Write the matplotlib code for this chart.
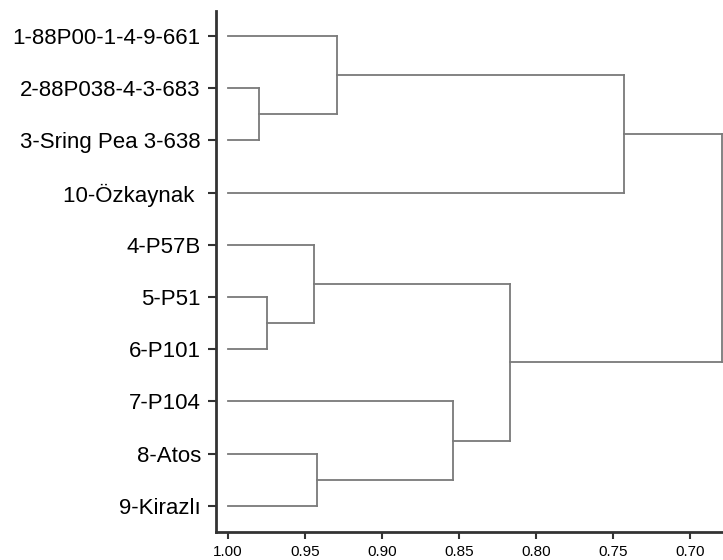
import matplotlib.pyplot as plt

plt.rcParams['font.family'] = ['Liberation Sans', 'DejaVu Sans']

# leaves in display order, top to bottom
labels = ['1-88P00-1-4-9-661', '2-88P038-4-3-683', '3-Sring Pea 3-638',
          '10-Özkaynak ', '4-P57B', '5-P51', '6-P101', '7-P104', '8-Atos',
          '9-Kirazlı']

# merges: (left node, right node, similarity); new clusters get ids 10, 11, ...
merge_left = [1, 0, 11, 5, 4, 8, 7, 14, 12]
merge_right = [2, 10, 3, 6, 13, 9, 15, 16, 17]
merge_height = [0.980, 0.929, 0.743, 0.975, 0.944, 0.942, 0.854, 0.817, 0.679]

x_ticks = [1.00, 0.95, 0.90, 0.85, 0.80, 0.75, 0.70]

fig = plt.figure(figsize=(7.23, 5.6), dpi=100)
ax = fig.add_axes([0.2988, 0.05, 0.7012, 0.9304])

line_col = '#7a7a7a'
n = len(labels)
pos = {i: float(i) for i in range(n)}
hgt = {i: 1.00 for i in range(n)}

for k in range(len(merge_height)):
    a, b, h = merge_left[k], merge_right[k], merge_height[k]
    ya, yb = pos[a], pos[b]
    ax.plot([hgt[a], h], [ya, ya], color=line_col, lw=1.3, clip_on=False)
    ax.plot([hgt[b], h], [yb, yb], color=line_col, lw=1.3, clip_on=False)
    ax.plot([h, h], [ya, yb], color=line_col, lw=1.3, clip_on=False)
    new = n + k
    pos[new] = (ya + yb) / 2
    hgt[new] = h

ax.set_xlim(1.0078, 0.6786)
ax.set_ylim(9.5, -0.48)

ax.set_yticks(range(n))
ax.set_yticklabels(labels, fontsize=16)
ax.set_xticks(x_ticks)
ax.set_xticklabels(['%.2f' % v for v in x_ticks], fontsize=11)

for s in ['top', 'right']:
    ax.spines[s].set_visible(False)
for s in ['left', 'bottom']:
    ax.spines[s].set_linewidth(2)
    ax.spines[s].set_color('#333333')
ax.tick_params(axis='y', length=6, width=1.5, color='#333333', pad=5)
ax.tick_params(axis='x', length=5, width=1.5, color='#333333', pad=4)

plt.savefig('out.png', dpi=100)
